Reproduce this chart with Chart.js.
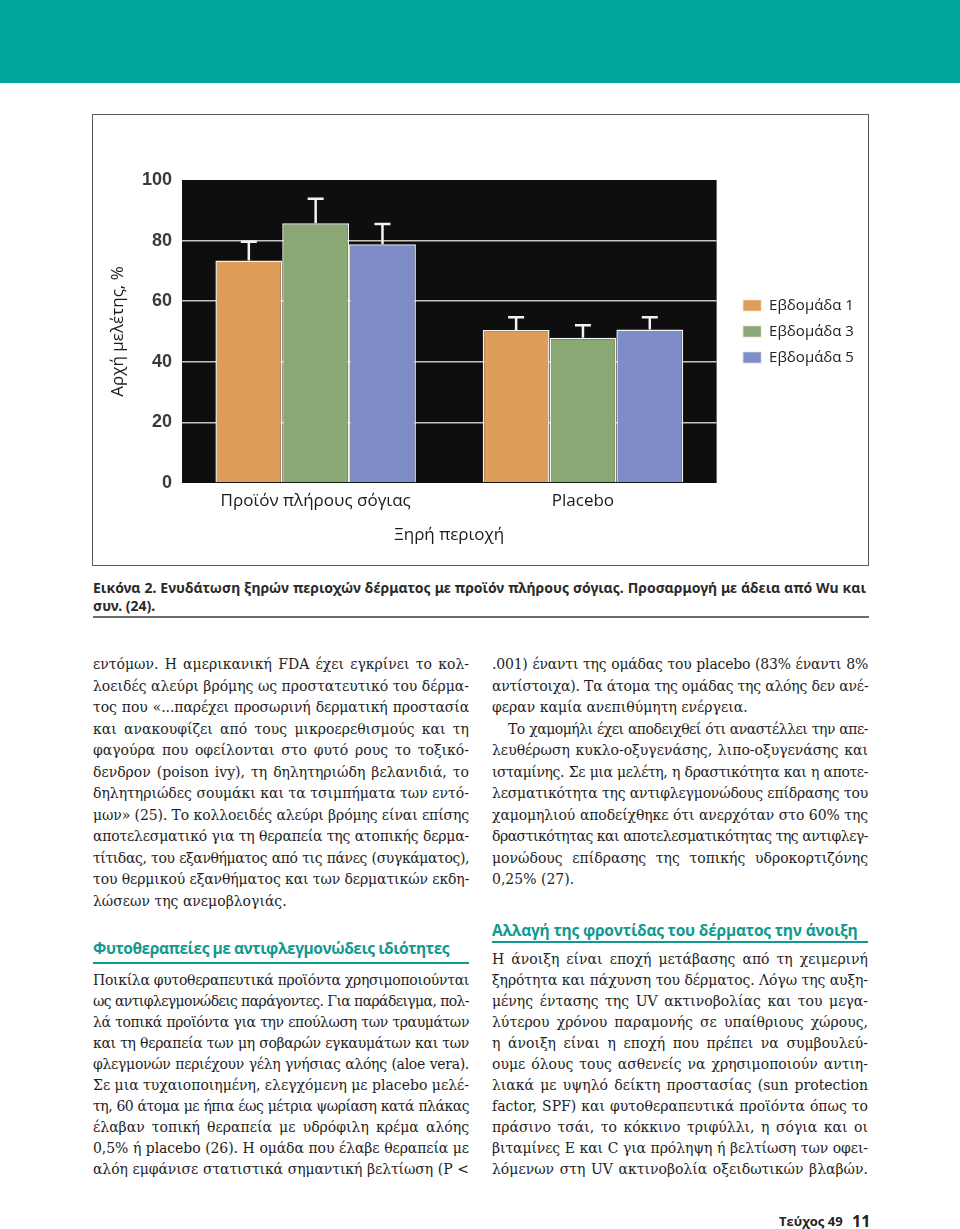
<!DOCTYPE html>
<html>
<head>
<meta charset="utf-8">
<script src="https://cdn.jsdelivr.net/npm/chart.js@4/dist/chart.umd.min.js"></script>
<style>
  html, body { margin: 0; padding: 0; width: 960px; height: 1229px; overflow: hidden; background: #fff; }
  .banner { position: absolute; left: 0; top: 0; width: 960px; height: 83px; background: #00a79d; }
  .fig { position: absolute; left: 92px; top: 114px; width: 777px; height: 452px; border: 1px solid #5a5a5a; box-sizing: border-box; }
  .fig canvas { position: absolute; left: 0; top: 0; }
  .caption { position: absolute; left: 93px; top: 579px; width: 773px; font-family: "Noto Sans", sans-serif; font-weight: bold; font-size: 14px; color: #2a2a2a; }
  .caption .ln { height: 18px; line-height: 18px; }
  .rule { position: absolute; height: 2px; }
  .col { position: absolute; width: 376px; font-family: "DejaVu Serif", serif; font-size: 14px; color: #1e1e1e; }
  .ln { white-space: nowrap; text-align: justify; text-align-last: justify; }
  .ln.end { text-align-last: left; }
  .ln.ind { text-indent: 16px; }
  .up .ln { height: 21.5px; line-height: 21.5px; }
  .low .ln { height: 21px; line-height: 21px; }
  .head { position: absolute; font-family: "Open Sans", sans-serif; font-weight: bold; font-size: 15.5px; color: #12998f; white-space: nowrap; line-height: 24px; }
  .foot { position: absolute; top: 1210px; font-family: "Open Sans", sans-serif; font-weight: bold; color: #222; white-space: nowrap; line-height: 22px; }
</style>
</head>
<body>
<div class="banner"></div>

<div class="fig"><canvas id="chart" width="775" height="450" style="width:775px;height:450px"></canvas></div>

<div class="caption">
  <div class="ln">Εικόνα 2. Ενυδάτωση ξηρών περιοχών δέρματος με προϊόν πλήρους σόγιας. Προσαρμογή με άδεια από Wu και</div>
  <div class="ln end">συν. (24).</div>
</div>
<div class="rule" style="left:93px;top:616px;width:776px;background:#6a6a6a"></div>

<div class="col up" style="left:93px;top:654px">
  <div class="ln">εντόμων. Η αμερικανική FDA έχει εγκρίνει το κολ-</div>
  <div class="ln">λοειδές αλεύρι βρόμης ως προστατευτικό του δέρμα-</div>
  <div class="ln">τος που «...παρέχει προσωρινή δερματική προστασία</div>
  <div class="ln">και ανακουφίζει από τους μικροερεθισμούς και τη</div>
  <div class="ln">φαγούρα που οφείλονται στο φυτό ρους το τοξικό-</div>
  <div class="ln">δενδρον (poison ivy), τη δηλητηριώδη βελανιδιά, το</div>
  <div class="ln">δηλητηριώδες σουμάκι και τα τσιμπήματα των εντό-</div>
  <div class="ln">μων» (25). Το κολλοειδές αλεύρι βρόμης είναι επίσης</div>
  <div class="ln">αποτελεσματικό για τη θεραπεία της ατοπικής δερμα-</div>
  <div class="ln">τίτιδας, του εξανθήματος από τις πάνες (συγκάματος),</div>
  <div class="ln">του θερμικού εξανθήματος και των δερματικών εκδη-</div>
  <div class="ln end">λώσεων της ανεμοβλογιάς.</div>
</div>

<div class="head" style="left:93px;top:936px;letter-spacing:-0.45px">Φυτοθεραπείες με αντιφλεγμονώδεις ιδιότητες</div>
<div class="rule" style="left:93px;top:962px;width:376px;background:#12998f"></div>

<div class="col low" style="left:93px;top:970px">
  <div class="ln">Ποικίλα φυτοθεραπευτικά προϊόντα χρησιμοποιούνται</div>
  <div class="ln">ως αντιφλεγμονώδεις παράγοντες. Για παράδειγμα, πολ-</div>
  <div class="ln">λά τοπικά προϊόντα για την επούλωση των τραυμάτων</div>
  <div class="ln">και τη θεραπεία των μη σοβαρών εγκαυμάτων και των</div>
  <div class="ln">φλεγμονών περιέχουν γέλη γνήσιας αλόης (aloe vera).</div>
  <div class="ln">Σε μια τυχαιοποιημένη, ελεγχόμενη με placebo μελέ-</div>
  <div class="ln">τη, 60 άτομα με ήπια έως μέτρια ψωρίαση κατά πλάκας</div>
  <div class="ln">έλαβαν τοπική θεραπεία με υδρόφιλη κρέμα αλόης</div>
  <div class="ln">0,5% ή placebo (26). Η ομάδα που έλαβε θεραπεία με</div>
  <div class="ln">αλόη εμφάνισε στατιστικά σημαντική βελτίωση (P &lt;</div>
</div>

<div class="col up" style="left:492px;top:654px">
  <div class="ln">.001) έναντι της ομάδας του placebo (83% έναντι 8%</div>
  <div class="ln">αντίστοιχα). Τα άτομα της ομάδας της αλόης δεν ανέ-</div>
  <div class="ln end">φεραν καμία ανεπιθύμητη ενέργεια.</div>
  <div class="ln ind">Το χαμομήλι έχει αποδειχθεί ότι αναστέλλει την απε-</div>
  <div class="ln">λευθέρωση κυκλο-οξυγενάσης, λιπο-οξυγενάσης και</div>
  <div class="ln">ισταμίνης. Σε μια μελέτη, η δραστικότητα και η αποτε-</div>
  <div class="ln">λεσματικότητα της αντιφλεγμονώδους επίδρασης του</div>
  <div class="ln">χαμομηλιού αποδείχθηκε ότι ανερχόταν στο 60% της</div>
  <div class="ln">δραστικότητας και αποτελεσματικότητας της αντιφλεγ-</div>
  <div class="ln">μονώδους επίδρασης της τοπικής υδροκορτιζόνης</div>
  <div class="ln end">0,25% (27).</div>
</div>

<div class="head" style="left:492px;top:918px;letter-spacing:-0.2px">Αλλαγή της φροντίδας του δέρματος την άνοιξη</div>
<div class="rule" style="left:492px;top:941px;width:376px;background:#12998f"></div>

<div class="col low" style="left:492px;top:949px">
  <div class="ln">Η άνοιξη είναι εποχή μετάβασης από τη χειμερινή</div>
  <div class="ln">ξηρότητα και πάχυνση του δέρματος. Λόγω της αυξη-</div>
  <div class="ln">μένης έντασης της UV ακτινοβολίας και του μεγα-</div>
  <div class="ln">λύτερου χρόνου παραμονής σε υπαίθριους χώρους,</div>
  <div class="ln">η άνοιξη είναι η εποχή που πρέπει να συμβουλεύ-</div>
  <div class="ln">ουμε όλους τους ασθενείς να χρησιμοποιούν αντιη-</div>
  <div class="ln">λιακά με υψηλό δείκτη προστασίας (sun protection</div>
  <div class="ln">factor, SPF) και φυτοθεραπευτικά προϊόντα όπως το</div>
  <div class="ln">πράσινο τσάι, το κόκκινο τριφύλλι, η σόγια και οι</div>
  <div class="ln">βιταμίνες Ε και C για πρόληψη ή βελτίωση των οφει-</div>
  <div class="ln">λόμενων στη UV ακτινοβολία οξειδωτικών βλαβών.</div>
</div>

<div class="foot" style="left:779px;font-size:13px">Τεύχος 49</div>
<div class="foot" style="left:852px;font-size:16px">11</div>

<script>
// chart data
var groups = ['Προϊόν πλήρους σόγιας', 'Placebo'];
var seriesNames = ['Εβδομάδα 1', 'Εβδομάδα 3', 'Εβδομάδα 5'];
var week1 = [73.4, 50.5];
var week3 = [85.7, 47.9];
var week5 = [78.8, 50.7];
// upper error bar length
var week1Err = [6.2, 4.2];
var week3Err = [8.1, 4.2];
var week5Err = [6.7, 4.0];
var yMin = 0, yMax = 100, yStep = 20;
var yTitle = 'Αρχή μελέτης, %';
var xTitle = 'Ξηρή περιοχή';

var colors = ['#df9d5a', '#8aa874', '#7e8dc7'];
var txtFont = '"Open Sans", sans-serif';
var plotRight = 623; // canvas x where the black plot should end

// black plot background
var plotBg = {
    id: 'plotBg',
    beforeDraw: function (chart) {
        var a = chart.chartArea;
        chart.ctx.save();
        chart.ctx.fillStyle = '#0e0e0e';
        chart.ctx.fillRect(a.left, a.top, a.right - a.left, a.bottom - a.top);
        chart.ctx.restore();
    }
};

// white upper error bars
var errorBars = {
    id: 'errorBars',
    afterDatasetsDraw: function (chart) {
        var c = chart.ctx;
        var yScale = chart.scales.y;
        c.save();
        c.strokeStyle = '#f2f2f2';
        c.lineWidth = 2.5;
        chart.data.datasets.forEach(function (ds, i) {
            chart.getDatasetMeta(i).data.forEach(function (bar, j) {
                var top = yScale.getPixelForValue(ds.data[j] + ds.errors[j]);
                c.beginPath();
                c.moveTo(bar.x, bar.y);
                c.lineTo(bar.x, top);
                c.moveTo(bar.x - 8, top);
                c.lineTo(bar.x + 8, top);
                c.stroke();
            });
        });
        c.restore();
    }
};

function makeSet(i, values, errs) {
    return {
        label: seriesNames[i],
        data: values,
        errors: errs,
        backgroundColor: colors[i],
        borderColor: '#f4f4f4',
        borderWidth: 1.5,
        borderSkipped: 'bottom',
        categoryPercentage: 0.75,
        barPercentage: 1.0
    };
}

var chart = new Chart(document.getElementById('chart'), {
    type: 'bar',
    data: {
        labels: groups,
        datasets: [
            makeSet(0, week1, week1Err),
            makeSet(1, week3, week3Err),
            makeSet(2, week5, week5Err)
        ]
    },
    options: {
        responsive: false,
        animation: false,
        layout: { padding: { top: 65, right: 5, bottom: 0, left: 0 } },
        plugins: {
            tooltip: { enabled: false },
            legend: {
                position: 'right',
                fullSize: false,
                align: 'center',
                labels: {
                    boxWidth: 19,
                    boxHeight: 12,
                    padding: 11,
                    color: '#222',
                    font: { family: txtFont, size: 15 }
                }
            }
        },
        scales: {
            x: {
                grid: { display: false, drawTicks: false },
                border: { display: false },
                ticks: { padding: 8, color: '#1a1a1a', font: { family: txtFont, size: 17 } },
                title: { display: true, text: xTitle, padding: 20, color: '#1a1a1a', font: { family: txtFont, size: 17 } },
                afterFit: function (s) { s.height = 82; }
            },
            y: {
                min: yMin,
                max: yMax,
                ticks: { stepSize: yStep, padding: 10, color: '#3a3a3a', font: { family: '"Liberation Sans", Arial, sans-serif', size: 18, weight: 'bold' } },
                grid: {
                    drawTicks: false,
                    lineWidth: 1.5,
                    color: function (c) {
                        return (c.tick && (c.tick.value === yMin || c.tick.value === yMax)) ? 'rgba(0,0,0,0)' : '#c4c4c4';
                    }
                },
                border: { display: false },
                title: { display: true, text: yTitle, padding: 15, color: '#1a1a1a', font: { family: txtFont, size: 17 } },
                afterFit: function (s) { s.width = 89; }
            },
            // empty spacer between plot and legend
            gap: {
                axis: 'y',
                position: 'right',
                grid: { display: false, drawTicks: false },
                ticks: { display: false },
                border: { display: false },
                afterFit: function (s) { s.width = 15; }
            }
        }
    },
    plugins: [plotBg, errorBars]
});

// pin the plot's right edge, whatever the legend width turned out to be
chart.options.layout.padding.right += chart.chartArea.right - plotRight;
chart.update();

// squeeze justified lines that are too long
document.querySelectorAll('.ln').forEach(function (el) {
    var ls = 0;
    while (el.scrollWidth > el.clientWidth + 0.5 && ls > -3) {
        ls -= 0.1;
        el.style.letterSpacing = ls.toFixed(1) + 'px';
    }
});
</script>
</body>
</html>
